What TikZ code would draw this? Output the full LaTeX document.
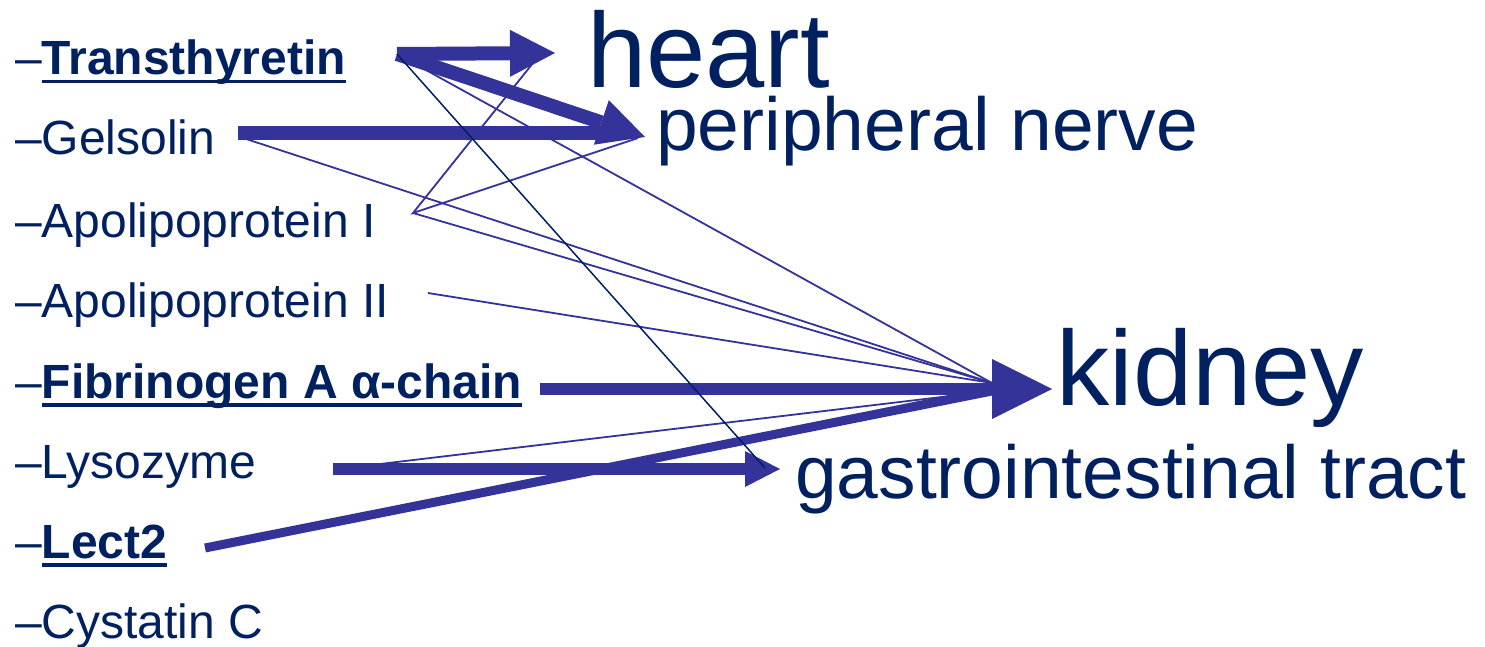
\documentclass[tikz,border=0pt]{standalone}
\usepackage{fontspec}
\setmainfont{Liberation Sans}
\usetikzlibrary{arrows.meta}
\definecolor{txtc}{RGB}{0,32,96}
\definecolor{arrc}{RGB}{51,51,153}
\newcommand\myul[1]{\setbox0\hbox{#1}\rlap{\rule[-8.5pt]{\wd0}{3.5pt}}\box0}
\begin{document}
\begin{tikzpicture}[x=1pt,y=-1pt,
  lbl/.style={anchor=base west,inner sep=0pt,text=txtc,font=\fontsize{48pt}{58pt}\selectfont},
  organbig/.style={anchor=base west,inner sep=0pt,text=txtc,font=\fontsize{106.5pt}{120pt}\selectfont},
  organsm/.style={anchor=base west,inner sep=0pt,text=txtc,font=\fontsize{75pt}{88pt}\selectfont},
  fat/.style={draw=arrc,line width=14pt},
  thin/.style={draw=arrc,line width=1.8pt},
  dark/.style={draw=txtc,line width=1.5pt}]
\useasboundingbox (0,0) rectangle (1485,647);
% labels
\node[lbl] (ttr) at (15,75) {–\textbf{\myul{Transthyretin}}};
\node[lbl] (gel) at (15,155) {–Gelsolin};
\node[lbl] (apo1) at (15,237) {–Apolipoprotein I};
\node[lbl] (apo2) at (15,317) {–Apolipoprotein II};
\node[lbl] (fib) at (15,398) {–\textbf{\myul{Fibrinogen A α-chain}}};
\node[lbl] (lys) at (15,478) {–Lysozyme};
\node[lbl] (lect) at (15,558) {–\textbf{\myul{Lect2}}};
\node[lbl] (cys) at (15,638) {–Cystatin C};
% organs
\node[organbig] (heart) at (587,88) {heart};
\node[organsm] (pn) at (656,151) {peripheral nerve};
\node[organbig] (kid) at (1056,405) {kidney};
\node[organsm] (gi) at (795,498) {gastrointestinal tract};
% anchor points
\coordinate (ttS) at (397,54);
\coordinate (heartT) at (555,53);
\coordinate (pnT) at (645,137);
\coordinate (gelS) at (238,133);
\coordinate (gelE) at (612,133);
\coordinate (gelThin) at (240,137);
\coordinate (apo1S) at (413,213);
\coordinate (apo1H) at (533,63);
\coordinate (apo1P) at (638,138);
\coordinate (apo2S) at (428,293);
\coordinate (fibS) at (540,389);
\coordinate (kidT) at (1052,389);
\coordinate (kidU) at (992,383);
\coordinate (kidL) at (992,391);
\coordinate (lysS) at (333,469);
\coordinate (giT) at (780,469);
\coordinate (lysThin) at (380,464);
\coordinate (lectS) at (205,548);
\coordinate (giD) at (765,468);
% thick arrows
\draw[fat] (gelS) -- (gelE);
\draw[fat,-{Triangle[length=45pt,width=47pt,line width=0pt]}] (ttS) -- (heartT);
\draw[fat,-{Triangle[length=46pt,width=47pt,line width=0pt]}] (ttS) -- (pnT);
\draw[fat,line width=12.5pt,-{Triangle[length=60pt,width=60pt,line width=0pt]}] (fibS) -- (kidT);
\draw[fat,line width=12pt,-{Triangle[length=35pt,width=36pt,line width=0pt]}] (lysS) -- (giT);
\draw[fat,line width=9pt] (lectS) -- (kidL);
% thin lines
\draw[thin] (ttS) -- (kidU);
\draw[thin] (gelThin) -- (kidU);
\draw[thin] (apo1H) -- (apo1S) -- (apo1P);
\draw[thin] (apo1S) -- (kidU);
\draw[thin] (apo2S) -- (kidU);
\draw[thin] (lysThin) -- (kidL);
\draw[dark] (ttS) -- (giD);
\end{tikzpicture}
\end{document}
